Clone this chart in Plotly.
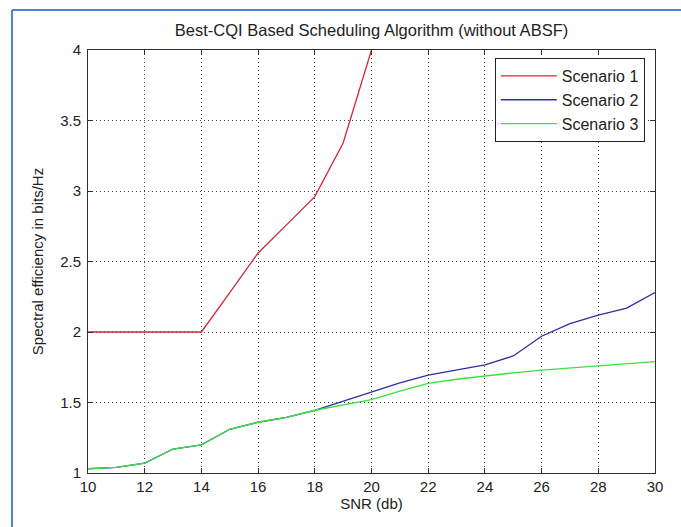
import plotly.graph_objects as go

snr = [10, 11, 12, 13, 14, 15, 16, 17, 18, 19, 20, 21, 22, 23, 24, 25, 26, 27, 28, 29, 30]

# Scenario 1 goes off the top of the axis after SNR 20
snr_s1 = [10, 11, 12, 13, 14, 15, 16, 17, 18, 19, 20]
scenario1 = [2.0, 2.0, 2.0, 2.0, 2.0, 2.28, 2.56, 2.76, 2.96, 3.34, 4.0]

scenario2 = [1.03, 1.04, 1.07, 1.17, 1.20, 1.31, 1.36, 1.395, 1.445, 1.51, 1.577,
             1.64, 1.695, 1.73, 1.766, 1.83, 1.97, 2.06, 2.12, 2.17, 2.28]
scenario3 = [1.03, 1.04, 1.07, 1.17, 1.20, 1.31, 1.36, 1.395, 1.445, 1.48, 1.52,
             1.58, 1.636, 1.665, 1.69, 1.71, 1.73, 1.745, 1.76, 1.77, 1.79]

x_ticks = [10, 12, 14, 16, 18, 20, 22, 24, 26, 28, 30]
y_ticks = [1, 1.5, 2, 2.5, 3, 3.5, 4]
y_ticktext = ["1", "1.5", "2", "2.5", "3", "3.5", "4"]

title_text = "Best-CQI Based Scheduling Algorithm (without ABSF)"
x_title = "SNR (db)"
y_title = "Spectral efficiency in bits/Hz"

FONT = "Liberation Sans, Arial, sans-serif"

fig = go.Figure()
fig.add_trace(go.Scatter(x=snr_s1, y=scenario1, mode="lines", name="Scenario 1",
                         line=dict(color="#d0283a", width=1.3)))
fig.add_trace(go.Scatter(x=snr, y=scenario2, mode="lines", name="Scenario 2",
                         line=dict(color="#2e2ea4", width=1.3)))
fig.add_trace(go.Scatter(x=snr, y=scenario3, mode="lines", name="Scenario 3",
                         line=dict(color="#3ee03e", width=1.3)))

axis_common = dict(
    showline=True, linecolor="#303030", linewidth=1, mirror="ticks",
    ticks="inside", ticklen=5, tickcolor="#303030",
    showgrid=True, gridcolor="#444444", griddash="1px,3px", gridwidth=1,
    zeroline=False, tickfont=dict(family=FONT, size=15, color="#222222"),
)

fig.update_xaxes(range=[10, 30], tickvals=x_ticks, **axis_common,
                 title=dict(text=x_title, font=dict(family=FONT, size=15, color="#222222"), standoff=4))
fig.update_yaxes(range=[1, 4], tickvals=y_ticks, ticktext=y_ticktext, **axis_common,
                 ticklabelstandoff=3,
                 title=dict(text=y_title, font=dict(family=FONT, size=15, color="#222222"), standoff=12))

fig.update_layout(
    width=681, height=527,
    margin=dict(l=88, r=26, t=50, b=54),
    paper_bgcolor="white", plot_bgcolor="white",
    title=dict(text=title_text, x=(88 + 655) / 2 / 681, xanchor="center",
               y=1 - 30 / 527, yanchor="middle",
               font=dict(family=FONT, size=16.5, color="#222222")),
    showlegend=True,
    legend=dict(x=0.982, y=0.981, xanchor="right", yanchor="top",
                bgcolor="white", bordercolor="#222222", borderwidth=1,
                font=dict(family=FONT, size=16, color="#222222"),
                itemwidth=56, tracegroupgap=0),
    shapes=[
        dict(type="line", xref="paper", yref="paper",
             x0=(12 - 88) / 567, x1=1.2, y0=(473 - 10) / 423, y1=(473 - 10) / 423,
             line=dict(color="#4f81d4", width=2)),
        dict(type="line", xref="paper", yref="paper",
             x0=(12 - 88) / 567, x1=(12 - 88) / 567, y0=(473 - 10) / 423, y1=-0.3,
             line=dict(color="#4f81d4", width=2)),
    ],
)

fig.write_html("out.html")
